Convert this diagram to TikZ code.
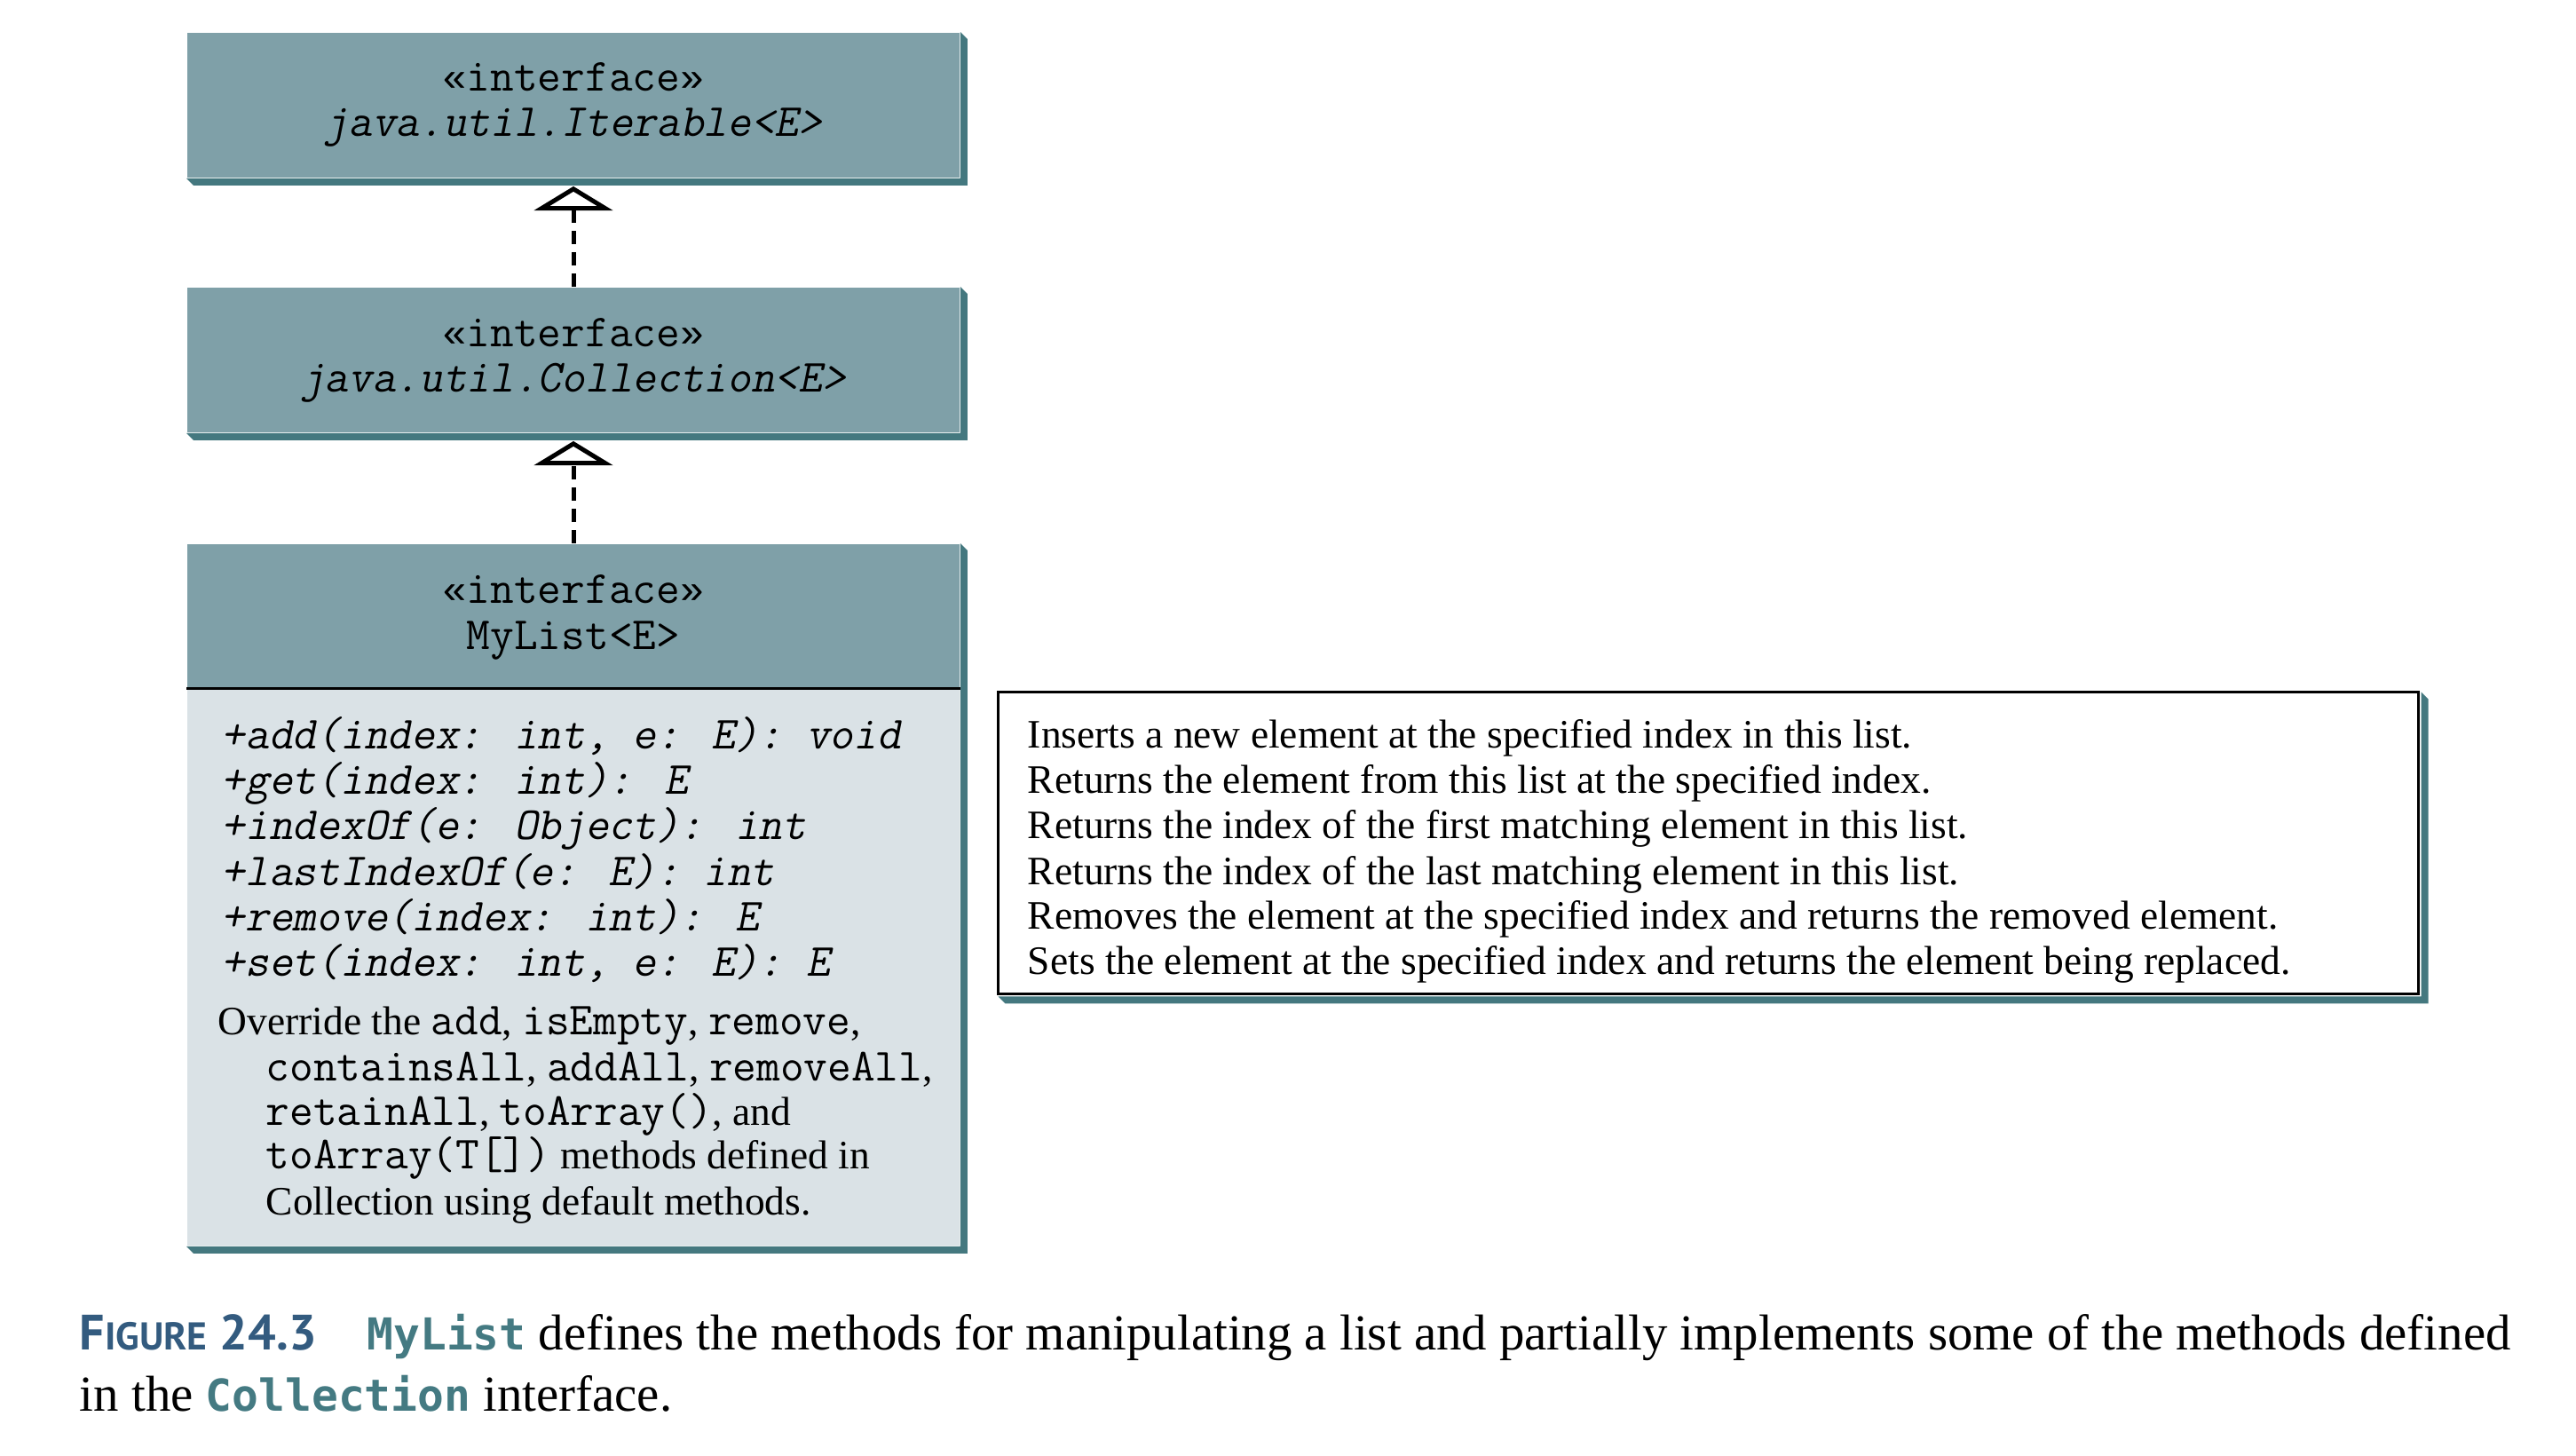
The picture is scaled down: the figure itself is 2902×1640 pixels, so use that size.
\documentclass[tikz,border=0pt]{standalone}
\usepackage{fontspec}
\setmainfont{Liberation Serif}
\newfontfamily\capsans{PT Sans}
\newfontfamily\capmono{DejaVu Sans Mono}
\newfontfamily\limono{Liberation Mono}
\newfontfamily\obltt{Latin Modern Mono}[FakeSlant=0.2]
\usetikzlibrary{arrows.meta}
\definecolor{facecol}{HTML}{7FA0A8}
\definecolor{shadowcol}{HTML}{44787F}
\definecolor{bodycol}{HTML}{DAE2E6}
\definecolor{capblue}{HTML}{335B7F}
\definecolor{capteal}{HTML}{447A82}
\def\pxu{0.22pt}
\newcommand\mtt[1]{{\ttfamily\fontsize{11.4}{12}\selectfont #1}}
\newcommand\itt[1]{{\obltt\fontsize{11.4}{12}\selectfont #1}}
\newcommand\gl[1]{{\limono\fontsize{10}{12}\selectfont #1}}
\tikzset{
  facebox/.style={fill=facecol, draw=none, inner sep=0pt, minimum width=870*\pxu},
  bodybox/.style={fill=bodycol, draw=none, inner sep=0pt, minimum width=870*\pxu},
  descbox/.style={fill=white, draw=black, line width=3*\pxu, inner sep=0pt},
  shadowfill/.style={fill=shadowcol, draw=none},
  txt/.style={inner sep=0pt, anchor=base, font=\fontsize{10}{12}\selectfont},
  ltxt/.style={inner sep=0pt, anchor=base west, font=\fontsize{10}{12}\selectfont},
  captxt/.style={inner sep=0pt, anchor=base west, font=\fontsize{12.5}{15}\selectfont},
  realize/.style={line width=5*\pxu, dash pattern=on 15*\pxu off 9*\pxu,
    -{Triangle[open, length=6pt, width=19.5pt, line width=1.1pt]}, shorten >=9*\pxu},
}
\newcommand\mshadow[3]{% south-west node, south-east node, north-east node
  \fill[shadowfill] (#1.south west) -- ([shift={(8,8)}]#1.south west) -- ([shift={(8,8)}]#2.south east)
    -- ([shift={(8,8)}]#3.north east) -- (#3.north east) -- (#2.south east) -- cycle;}
\newcommand\stereo{\gl{«}\mtt{interface}\gl{»}}
\begin{document}
\begin{tikzpicture}[x=0.22pt, y=-0.22pt]
\useasboundingbox[fill=white] (0,0) rectangle (2902,1640);

% Iterable
\node[facebox, minimum height=163*\pxu] (iter) at (646,118.5) {};
\mshadow{iter}{iter}{iter}
\node[txt] (iter1) at (646,103) {\stereo};
\node[txt] (iter2) at (646,154) {\itt{java.util.Iterable<E>}};

% Collection
\node[facebox, minimum height=163*\pxu] (coll) at (646,405.5) {};
\mshadow{coll}{coll}{coll}
\node[txt] (coll1) at (646,391) {\stereo};
\node[txt] (coll2) at (646,442) {\itt{java.util.Collection<E>}};

% MyList
\node[facebox, minimum height=163*\pxu] (ml) at (646,694.5) {};
\node[bodybox, minimum height=627*\pxu] (mlb) at (646,1089.5) {};
\mshadow{mlb}{mlb}{ml}
\draw[line width=3*\pxu] (mlb.north west) -- (mlb.north east);
\node[txt] (ml1) at (646,680) {\stereo};
\node[txt] (ml2) at (646,732) {\mtt{MyList<E>}};

\node[ltxt] (m1) at (249,844) {\itt{+add(index: int, e: E): void}};
\node[ltxt] (m2) at (249,895) {\itt{+get(index: int): E}};
\node[ltxt] (m3) at (249,946) {\itt{+indexOf(e: Object): int}};
\node[ltxt] (m4) at (249,998) {\itt{+lastIndexOf(e: E): int}};
\node[ltxt] (m5) at (249,1049) {\itt{+remove(index: int): E}};
\node[ltxt] (m6) at (249,1100) {\itt{+set(index: int, e: E): E}};

\node[ltxt] (o1) at (245,1166) {Override the \mtt{add}, \mtt{isEmpty}, \mtt{remove},};
\node[ltxt] (o2) at (299,1218) {\mtt{containsAll}, \mtt{addAll}, \mtt{removeAll},};
\node[ltxt] (o3) at (299,1268) {\mtt{retainAll}, \mtt{toArray()}, and};
\node[ltxt] (o4) at (299,1317) {\mtt{toArray(T[])} methods defined in};
\node[ltxt] (o5) at (299,1369) {Collection using default methods.};

% connectors
\draw[realize] (coll.north) -- (iter.south);
\draw[realize] (ml.north) -- (coll.south);

% description box
\node[descbox, minimum width=1600*\pxu, minimum height=340*\pxu] (desc) at (1924.5,949.5) {};
\fill[shadowfill] ([shift={(1.5,1.5)}]desc.south west) -- ([shift={(9.5,9.5)}]desc.south west)
  -- ([shift={(9.5,9.5)}]desc.south east) -- ([shift={(9.5,9.5)}]desc.north east)
  -- ([shift={(1.5,1.5)}]desc.north east) -- ([shift={(1.5,1.5)}]desc.south east) -- cycle;
\node[ltxt] (d1) at (1157,843) {Inserts a new element at the specified index in this list.};
\node[ltxt] (d2) at (1157,894) {Returns the element from this list at the specified index.};
\node[ltxt] (d3) at (1157,945) {Returns the index of the first matching element in this list.};
\node[ltxt] (d4) at (1157,997) {Returns the index of the last matching element in this list.};
\node[ltxt] (d5) at (1157,1047) {Removes the element at the specified index and returns the removed element.};
\node[ltxt] (d6) at (1157,1098) {Sets the element at the specified index and returns the element being replaced.};

% caption
\node[captxt] (cap1) at (89,1521) {{\capsans\bfseries\color{capblue}\fontsize{12.3}{15}\selectfont F{\fontsize{9.6}{12}\selectfont IGURE} 24.3}\hspace{12.5pt}{\capmono\bfseries\color{capteal}\fontsize{10.9}{13}\selectfont MyList} defines the methods for manipulating a list and partially implements some of the methods defined};
\node[captxt] (cap2) at (89,1590) {in the {\capmono\bfseries\color{capteal}\fontsize{10.9}{13}\selectfont Collection} interface.};
\end{tikzpicture}
\end{document}
